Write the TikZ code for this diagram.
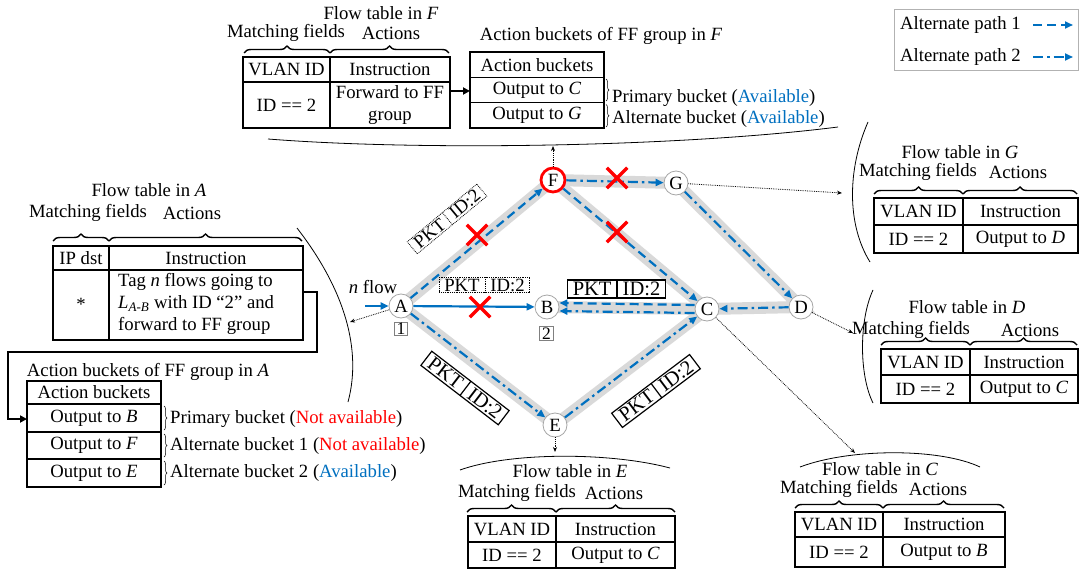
\documentclass[tikz,border=0pt]{standalone}
\usepackage{fontspec}
\setmainfont{Liberation Serif}
\usetikzlibrary{arrows.meta,decorations.pathreplacing,shapes.multipart,shapes.misc}
\definecolor{myblue}{RGB}{0,112,192}
\definecolor{bandgray}{RGB}{217,217,217}
\definecolor{myred}{RGB}{255,0,0}
\pgfdeclarelayer{bg}
\pgfsetlayers{bg,main}
\tikzset{
 txt/.style={inner sep=0pt, font=\fontsize{18.7}{21.7}\selectfont},
 tabbox/.style={draw, line width=1.2pt, inner sep=0pt, outer sep=0pt},
 tblline/.style={line width=1.2pt},
 topbrace/.style={decorate, decoration={brace, amplitude=7pt}, line width=1.4pt},
 smallbrace/.style={decorate, decoration={brace, amplitude=3pt}, line width=0.5pt},
 sw/.style={circle, draw=gray!70, fill=white, minimum size=24pt, inner sep=0pt, line width=0.8pt, font=\fontsize{18.7}{20}\selectfont},
 bandline/.style={line width=12pt, draw=bandgray, line cap=round},
 alt1/.style={myblue, line width=2.2pt, dash pattern=on 9pt off 5pt, -{Triangle[length=8pt,width=7pt]}},
 alt2/.style={myblue, line width=2.2pt, dash pattern=on 10pt off 4pt on 2.5pt off 4pt, -{Triangle[length=8pt,width=7pt]}},
 prim/.style={myblue, line width=2.2pt, -{Triangle[length=8pt,width=7pt]}},
 redx/.style={cross out, draw=myred, line width=3.5pt, minimum size=17pt, inner sep=0pt},
 ptr/.style={densely dotted, line width=0.8pt, -{Stealth[length=5pt,width=4pt]}},
 arcl/.style={line width=0.8pt},
 conn/.style={line width=2.2pt, -{Triangle[length=7pt,width=7pt]}},
 pktd/.style={rectangle split, rectangle split horizontal, rectangle split parts=2, draw, densely dotted, line width=0.8pt, inner xsep=5pt, inner ysep=1.5pt, font=\fontsize{18.7}{20}\selectfont},
 pkts/.style={rectangle split, rectangle split horizontal, rectangle split parts=2, draw, line width=1.2pt, inner xsep=5pt, inner ysep=2pt, font=\fontsize{20.5}{22}\selectfont},
 numbox/.style={draw=gray, line width=0.8pt, inner xsep=2.5pt, inner ysep=1pt, font=\fontsize{17.5}{18}\selectfont}
}
\newcommand{\tablegrid}[7]{%
 \node[tabbox, minimum width={#4-#2}, minimum height={#7-#5}] (#1) at ({(#2+#4)/2},{(#5+#7)/2}) {};
 \draw[tblline] (#3,#5) -- (#3,#7);
 \draw[tblline] (#2,#6) -- (#4,#6);}
\newcommand{\twobraces}[4]{%
 \draw[topbrace] (#1,#4) -- (#2,#4);
 \draw[topbrace] (#2,#4) -- (#3,#4);}
\begin{document}
\begin{tikzpicture}[x=1pt,y=-1pt]
\begin{pgfonlayer}{bg}
\fill[white] (0,0) rectangle (1079,575);
\end{pgfonlayer}
\useasboundingbox (0,0) rectangle (1079,575);

% ---------------- legend
\draw[gray!60, line width=0.8pt] (894,9) rectangle (1078,70);
\node[txt, anchor=west] (lg1) at (900,25) {Alternate path 1};
\node[txt, anchor=west] (lg2) at (900,57) {Alternate path 2};
\coordinate (l1a) at (1033,25); \coordinate (l1b) at (1073,25);
\coordinate (l2a) at (1033,57); \coordinate (l2b) at (1073,57);
\draw[alt1] (l1a) -- (l1b);
\draw[alt2] (l2a) -- (l2b);

% ---------------- switches
\node[sw] (A) at (401,306) {A};
\node[sw] (B) at (547,307) {B};
\node[sw] (C) at (707,309) {C};
\node[sw] (D) at (801,307) {D};
\node[sw] (E) at (555,425) {E};
\node[sw, draw=myred, line width=2.8pt] (F) at (553,180) {F};
\node[sw] (G) at (676,183) {G};

\begin{pgfonlayer}{bg}
\draw[bandline] (A.center) -- (F.center) -- (G.center) -- (D.center) -- (C.center) -- (B.center);
\draw[bandline] (F.center) -- (C.center);
\draw[bandline] (A.center) -- (E.center) -- (C.center);
\end{pgfonlayer}

% flows
\node[txt] (nf) at (373,287) {\textit{n} flow};
\coordinate (nin) at (365,306);
\draw[prim] (nin) -- (A);
\draw[prim] (A) -- (B);
\draw[alt1] (A) -- (F);
\draw[alt1] (F) -- (C);
\draw[alt1] ([yshift=4pt]C.west) -- ([yshift=4pt]B.east);
\draw[alt2] ([yshift=-4pt]C.west) -- ([yshift=-4pt]B.east);
\draw[alt2] (F) -- (G);
\draw[alt2] (G) -- (D);
\draw[alt2] (D) -- (C);
\draw[alt2] (A) -- (E);
\draw[alt2] (E) -- (C);

% red crosses
\node[redx] (x1) at (477,235) {};
\node[redx] (x2) at (480,307) {};
\node[redx] (x3) at (617,178) {};
\node[redx] (x4) at (617,232) {};

% packet labels
\node[pktd, rotate=39.7] (p1) at (447,219) {PKT\nodepart{two}ID:2};
\node[pktd] (p2) at (484.5,285) {PKT\nodepart{two}ID:2};
\node[pkts] (p3) at (616.5,289) {PKT\nodepart{two}ID:2};
\node[pkts, rotate=-37.5] (p4) at (465,388) {PKT\nodepart{two}ID:2};
\node[pkts, rotate=37] (p5) at (656,391) {PKT\nodepart{two}ID:2};
\node[numbox] (n1) at (401,329) {1};
\node[numbox] (n2) at (546.5,333.5) {2};

% ---------------- pointers and arcs
\coordinate (fArc) at (553,146);
\coordinate (gArc) at (842,193);
\coordinate (aArc) at (350,322);
\coordinate (dArc) at (853,333);
\coordinate (eArc) at (555,452);
\coordinate (cArc) at (855,453);
\draw[ptr] (F) -- (fArc);
\draw[ptr] (G) -- (gArc);
\draw[ptr] (A) -- (aArc);
\draw[ptr] (D) -- (dArc);
\draw[ptr] (E) -- (eArc);
\draw[ptr] (C) -- (cArc);

\draw[arcl] (268,139) .. controls (420,151) and (680,147) .. (838,127);
\draw[arcl] (297,228) .. controls (345,290) and (362,350) .. (348,402);
\draw[arcl] (868,122) .. controls (847,170) and (847,225) .. (870,262);
\draw[arcl] (873,290) .. controls (859,320) and (859,375) .. (873,403);
\draw[arcl] (460,470) .. controls (510,452) and (610,452) .. (670,468);
\draw[arcl] (800,467) .. controls (850,448) and (940,448) .. (980,467);

% ---------------- flow table F
\node[txt] (fT) at (381,13) {Flow table in \textit{F}};
\node[txt] (fM) at (286,33) {Matching fields};
\node[txt] (fA) at (391,33) {Actions};
\twobraces{244}{330}{449}{53}
\tablegrid{tabF}{243}{330}{450}{57}{82}{128}
\node[txt] (f1) at (286.5,69.5) {VLAN ID};
\node[txt] (f2) at (390,69.5) {Instruction};
\node[txt] (f3) at (286.5,105) {ID == 2};
\node[txt, align=center] (f4) at (390,105) {Forward to FF\\group};

% buckets F
\node[txt] (bFT) at (601,36) {Action buckets of FF group in \textit{F}};
\node[tabbox, minimum width=134pt, minimum height=76pt] (bkF) at (537,90) {};
\draw[tblline] (470,77.3) -- (604,77.3);
\draw[tblline] (470,102.7) -- (604,102.7);
\node[txt] (bF1) at (537,65) {Action buckets};
\node[txt] (bF2) at (537,90) {Output to \textit{C}};
\node[txt] (bF3) at (537,115.5) {Output to \textit{G}};
\draw[conn] (tabF.east |- 0,91) -- (bkF.west |- 0,91);
\draw[smallbrace] (606,79) -- (606,101);
\draw[smallbrace] (606,104.5) -- (606,127);
\node[txt, anchor=west] (sF1) at (612,98) {Primary bucket (\textcolor{myblue}{Available})};
\node[txt, anchor=west] (sF2) at (612,119) {Alternate bucket (\textcolor{myblue}{Available})};

% ---------------- flow table A
\node[txt] (aT) at (149,190) {Flow table in \textit{A}};
\node[txt] (aM) at (88,213) {Matching fields};
\node[txt] (aAc) at (192,213) {Actions};
\twobraces{53}{109}{302}{241}
\tablegrid{tabA}{53}{109}{303}{246}{270}{340}
\node[txt] (a1) at (81,258) {IP dst};
\node[txt] (a2) at (206,258) {Instruction};
\node[txt] (a3) at (81,304) {*};
\node[txt, align=left, anchor=west] (a4) at (118,304) {Tag \textit{n} flows going to\\\textit{L}\textsubscript{\textit{A-B}} with ID “2” and\\forward to FF group};

% buckets A
\node[txt] (bAT) at (148,372) {Action buckets of FF group in \textit{A}};
\node[tabbox, minimum width=134pt, minimum height=106pt] (bkA) at (94,434) {};
\draw[tblline] (27,404) -- (161,404);
\draw[tblline] (27,432) -- (161,432);
\draw[tblline] (27,459) -- (161,459);
\node[txt] (bA1) at (94,392.5) {Action buckets};
\node[txt] (bA2) at (94,418) {Output to \textit{B}};
\node[txt] (bA3) at (94,445.5) {Output to \textit{F}};
\node[txt] (bA4) at (94,473) {Output to \textit{E}};
\draw[conn] (tabA.east |- 0,292) -- (317,292) -- (317,352) -- (8,352) -- (8,419) -- (bkA.west |- 0,419);
\draw[smallbrace] (164,406) -- (164,430);
\draw[smallbrace] (164,434) -- (164,457);
\draw[smallbrace] (164,461) -- (164,485);
\node[txt, anchor=west] (sA1) at (170,419) {Primary bucket (\textcolor{myred}{Not available})};
\node[txt, anchor=west] (sA2) at (170,446) {Alternate bucket 1 (\textcolor{myred}{Not available})};
\node[txt, anchor=west] (sA3) at (170,473) {Alternate bucket 2 (\textcolor{myblue}{Available})};

% ---------------- flow table G
\node[txt] (gT) at (960,152) {Flow table in \textit{G}};
\node[txt] (gM) at (918,172) {Matching fields};
\node[txt] (gA) at (1018,172) {Actions};
\twobraces{874}{963}{1077}{194}
\tablegrid{tabG}{874}{963}{1078}{198}{225}{253}
\node[txt] (g1) at (918.5,211.5) {VLAN ID};
\node[txt] (g2) at (1020.5,211.5) {Instruction};
\node[txt] (g3) at (918.5,239) {ID == 2};
\node[txt] (g4) at (1020.5,239) {Output to \textit{D}};

% ---------------- flow table D
\node[txt] (dT) at (967,307) {Flow table in \textit{D}};
\node[txt] (dM) at (911,330) {Matching fields};
\node[txt] (dA) at (1030,330) {Actions};
\twobraces{881}{970}{1077}{345}
\tablegrid{tabD}{881}{970}{1078}{349}{375}{403}
\node[txt] (d1) at (925.5,362) {VLAN ID};
\node[txt] (d2) at (1024,362) {Instruction};
\node[txt] (d3) at (925.5,389) {ID == 2};
\node[txt] (d4) at (1024,389) {Output to \textit{C}};

% ---------------- flow table E
\node[txt] (eT) at (570,471) {Flow table in \textit{E}};
\node[txt] (eM) at (517,493) {Matching fields};
\node[txt] (eA) at (614,493) {Actions};
\twobraces{467}{556}{675}{512}
\tablegrid{tabE}{468}{556}{675}{516}{542}{568}
\node[txt] (e1) at (512,529) {VLAN ID};
\node[txt] (e2) at (615.5,529) {Instruction};
\node[txt] (e3) at (512,555) {ID == 2};
\node[txt] (e4) at (615.5,555) {Output to \textit{C}};

% ---------------- flow table C
\node[txt] (cT) at (880,469) {Flow table in \textit{C}};
\node[txt] (cM) at (839,489) {Matching fields};
\node[txt] (cA) at (938,489) {Actions};
\twobraces{795}{883}{1004}{508}
\tablegrid{tabC}{795}{883}{1005}{512}{537}{567}
\node[txt] (c1) at (839,524.5) {VLAN ID};
\node[txt] (c2) at (944,524.5) {Instruction};
\node[txt] (c3) at (839,552) {ID == 2};
\node[txt] (c4) at (944,552) {Output to \textit{B}};
\end{tikzpicture}
\end{document}
